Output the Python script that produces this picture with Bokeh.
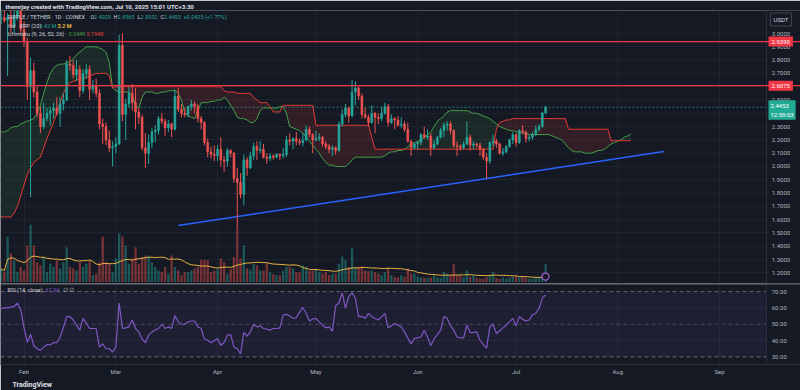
import numpy as np
import pandas as pd
from bokeh.plotting import figure
from bokeh.layouts import column
from bokeh.models import (Range1d, FixedTicker, NumeralTickFormatter, Label, Span,
                          BoxAnnotation, Grid, MonthsTicker, DatetimeTickFormatter,
                          Title, ColumnDataSource, LinearAxis)
from bokeh.embed import file_html
from bokeh.resources import INLINE

FONT = "Roboto"
BG = "#151924"
GRID = "#1f2330"
UP = "#26a69a"
DOWN = "#ef5350"
TXT = "#d1d4dc"
AX = "#b2b5be"

# ---------------- data (daily XRP/USDT, 2025-01-25 .. 2025-07-10) ----------------
start_date = "2025-01-25"
opens = [3.11, 3.12, 3.10, 3.12, 3.05, 3.13, 3.23, 3.03, 2.94, 2.60,
         2.72, 2.56, 2.40, 2.30, 2.36, 2.40, 2.42, 2.44, 2.40, 2.47,
         2.50, 2.77, 2.76, 2.69, 2.73, 2.57, 2.70, 2.73, 2.58, 2.61,
         2.55, 2.32, 2.30, 2.20, 2.14, 2.15, 2.17, 2.91, 2.39, 2.47,
         2.55, 2.48, 2.41, 2.37, 2.14, 2.10, 2.18, 2.26, 2.27, 2.36,
         2.34, 2.29, 2.32, 2.28, 2.53, 2.43, 2.40, 2.39, 2.45, 2.47,
         2.45, 2.36, 2.33, 2.18, 2.11, 2.09, 2.08, 2.13, 2.05, 2.04,
         2.12, 2.10, 1.91, 1.88, 1.79, 2.05, 1.99, 2.08, 2.15, 2.12,
         2.13, 2.07, 2.06, 2.08, 2.07, 2.09, 2.08, 2.09, 2.20, 2.19,
         2.21, 2.19, 2.18, 2.20, 2.28, 2.24, 2.20, 2.21, 2.22, 2.17,
         2.15, 2.13, 2.14, 2.12, 2.32, 2.39, 2.44, 2.38, 2.56, 2.59,
         2.53, 2.39, 2.37, 2.33, 2.40, 2.37, 2.36, 2.40, 2.45, 2.33,
         2.36, 2.35, 2.31, 2.32, 2.28, 2.19, 2.14, 2.17, 2.18, 2.24,
         2.22, 2.23, 2.14, 2.17, 2.22, 2.27, 2.31, 2.32, 2.27, 2.16,
         2.15, 2.14, 2.17, 2.22, 2.16, 2.17, 2.16, 2.13, 2.07, 2.04,
         2.18, 2.19, 2.17, 2.10, 2.11, 2.15, 2.20, 2.24, 2.18, 2.27,
         2.26, 2.21, 2.22, 2.24, 2.28, 2.30, 2.4029]
highs = [3.17, 3.18, 3.15, 3.19, 3.18, 3.28, 3.26, 3.09, 2.97, 2.82,
         2.78, 2.60, 2.45, 2.48, 2.44, 2.45, 2.48, 2.52, 2.52, 2.55,
         2.80, 2.83, 2.80, 2.80, 2.76, 2.73, 2.77, 2.76, 2.65, 2.66,
         2.58, 2.36, 2.33, 2.27, 2.19, 2.22, 2.99, 3.00, 2.51, 2.60,
         2.62, 2.59, 2.44, 2.39, 2.25, 2.24, 2.29, 2.31, 2.38, 2.40,
         2.36, 2.35, 2.33, 2.58, 2.59, 2.47, 2.44, 2.46, 2.50, 2.49,
         2.47, 2.38, 2.34, 2.21, 2.15, 2.16, 2.16, 2.22, 2.08, 2.14,
         2.13, 2.11, 1.99, 1.95, 2.09, 2.07, 2.11, 2.18, 2.19, 2.19,
         2.17, 2.10, 2.10, 2.09, 2.10, 2.10, 2.14, 2.23, 2.25, 2.22,
         2.26, 2.21, 2.25, 2.31, 2.30, 2.25, 2.27, 2.25, 2.23, 2.19,
         2.17, 2.16, 2.15, 2.34, 2.43, 2.47, 2.45, 2.65, 2.64, 2.61,
         2.55, 2.44, 2.39, 2.46, 2.41, 2.40, 2.45, 2.48, 2.47, 2.39,
         2.37, 2.38, 2.37, 2.34, 2.33, 2.20, 2.18, 2.19, 2.25, 2.30,
         2.28, 2.25, 2.20, 2.23, 2.29, 2.33, 2.34, 2.34, 2.28, 2.19,
         2.17, 2.19, 2.34, 2.24, 2.19, 2.18, 2.18, 2.14, 2.10, 2.19,
         2.24, 2.21, 2.18, 2.14, 2.16, 2.21, 2.26, 2.25, 2.28, 2.31,
         2.27, 2.24, 2.26, 2.31, 2.32, 2.41, 2.4565]
lows = [3.07, 3.08, 2.68, 3.00, 3.00, 3.10, 3.00, 2.90, 2.50, 1.77,
        2.52, 2.37, 2.25, 2.28, 2.34, 2.31, 2.36, 2.38, 2.30, 2.42,
        2.49, 2.72, 2.66, 2.64, 2.52, 2.55, 2.66, 2.50, 2.55, 2.52,
        2.28, 2.17, 2.16, 2.11, 2.00, 2.10, 2.16, 2.34, 2.20, 2.44,
        2.42, 2.28, 2.32, 2.12, 1.99, 2.02, 2.14, 2.18, 2.24, 2.32,
        2.23, 2.26, 2.22, 2.27, 2.41, 2.37, 2.37, 2.37, 2.42, 2.40,
        2.33, 2.28, 2.16, 2.07, 2.06, 2.04, 2.04, 2.00, 1.96, 2.00,
        2.07, 1.88, 1.54, 1.76, 1.71, 1.93, 1.98, 2.05, 2.05, 2.10,
        2.06, 2.02, 2.04, 2.05, 2.06, 2.05, 2.06, 2.07, 2.16, 2.13,
        2.16, 2.16, 2.15, 2.19, 2.22, 2.10, 2.19, 2.19, 2.15, 2.13,
        2.10, 2.08, 2.09, 2.11, 2.30, 2.37, 2.33, 2.37, 2.46, 2.50,
        2.36, 2.36, 2.30, 2.32, 2.25, 2.32, 2.34, 2.39, 2.30, 2.32,
        2.28, 2.30, 2.29, 2.26, 2.18, 2.08, 2.13, 2.13, 2.16, 2.21,
        2.20, 2.08, 2.13, 2.16, 2.21, 2.22, 2.27, 2.24, 2.14, 2.08,
        2.12, 2.13, 2.16, 2.12, 2.13, 2.14, 2.08, 2.05, 1.91, 2.02,
        2.15, 2.14, 2.09, 2.08, 2.10, 2.14, 2.17, 2.15, 2.17, 2.24,
        2.18, 2.19, 2.20, 2.23, 2.26, 2.29, 2.3932]
closes = [3.12, 3.10, 3.12, 3.05, 3.13, 3.23, 3.03, 2.94, 2.60, 2.72,
          2.56, 2.40, 2.30, 2.36, 2.40, 2.42, 2.44, 2.40, 2.47, 2.50,
          2.77, 2.76, 2.69, 2.73, 2.57, 2.70, 2.73, 2.58, 2.61, 2.55,
          2.32, 2.30, 2.20, 2.14, 2.15, 2.17, 2.91, 2.39, 2.47, 2.55,
          2.48, 2.41, 2.37, 2.14, 2.10, 2.18, 2.26, 2.27, 2.36, 2.34,
          2.29, 2.32, 2.28, 2.53, 2.43, 2.40, 2.39, 2.45, 2.47, 2.45,
          2.36, 2.33, 2.18, 2.11, 2.09, 2.08, 2.13, 2.05, 2.04, 2.12,
          2.10, 1.91, 1.88, 1.79, 2.05, 1.99, 2.08, 2.15, 2.12, 2.13,
          2.07, 2.06, 2.08, 2.07, 2.09, 2.08, 2.09, 2.20, 2.19, 2.21,
          2.19, 2.18, 2.20, 2.28, 2.24, 2.20, 2.21, 2.22, 2.17, 2.15,
          2.13, 2.14, 2.12, 2.32, 2.39, 2.44, 2.38, 2.56, 2.59, 2.53,
          2.39, 2.37, 2.33, 2.40, 2.37, 2.36, 2.40, 2.45, 2.33, 2.36,
          2.35, 2.31, 2.32, 2.28, 2.19, 2.14, 2.17, 2.18, 2.24, 2.22,
          2.23, 2.14, 2.17, 2.22, 2.27, 2.31, 2.32, 2.27, 2.16, 2.15,
          2.14, 2.17, 2.22, 2.16, 2.17, 2.16, 2.13, 2.07, 2.04, 2.18,
          2.19, 2.17, 2.10, 2.11, 2.15, 2.20, 2.24, 2.18, 2.27, 2.26,
          2.21, 2.22, 2.24, 2.28, 2.30, 2.4029, 2.4453]
volumes_m = [2.5, 1.9, 8.7, 5.5, 4.2, 1.9, 2.9, 2.2, 7.0, 11.0,
             7.0, 3.8, 3.2, 4.8, 1.9, 3.5, 2.9, 4.2, 2.6, 3.8,
             6.7, 2.9, 2.6, 2.2, 3.8, 2.9, 3.5, 4.2, 1.3, 1.6,
             3.8, 8.7, 3.8, 3.5, 1.9, 4.5, 9.3, 8.7, 7.0, 3.5,
             4.5, 6.7, 3.5, 4.8, 5.1, 5.1, 3.8, 2.9, 2.2, 1.9,
             2.9, 1.6, 5.1, 2.9, 2.2, 1.3, 1.9, 1.9, 2.2, 2.6,
             2.9, 4.3, 4.3, 4.2, 1.9, 2.2, 2.5, 4.5, 3.8, 1.6,
             2.5, 4.8, 10.6, 4.5, 7.0, 2.6, 2.4, 3.5, 3.2, 2.2,
             2.2, 3.6, 1.9, 1.5, 1.3, 1.3, 2.2, 2.9, 2.9, 2.6,
             1.9, 1.9, 3.2, 2.9, 2.2, 2.2, 2.4, 1.9, 1.6, 1.9,
             1.3, 1.6, 1.6, 3.5, 4.9, 4.2, 2.9, 6.5, 2.9, 2.9,
             3.0, 2.2, 2.1, 2.2, 1.9, 1.6, 1.3, 1.9, 2.6, 1.3,
             1.0, 0.9, 1.3, 1.0, 2.6, 1.6, 1.6, 1.0, 0.9, 0.8,
             0.8, 0.9, 1.3, 0.9, 0.8, 1.9, 1.6, 1.3, 3.4, 1.3,
             1.3, 1.0, 2.2, 1.0, 1.3, 0.8, 0.6, 0.6, 1.0, 1.3,
             1.9, 0.8, 0.6, 0.9, 0.6, 0.8, 1.0, 1.1, 0.9, 1.0,
             0.7, 0.6, 0.6, 0.9, 1.0, 1.3, 3.42]
rsi_values = [59.5, 60, 60, 60.5, 61, 63, 58.8, 48, 39, 43.7,
              37, 35, 34, 36, 37.5, 37.5, 38.7, 38.7, 42, 48,
              54.7, 54.7, 52.6, 49.5, 46.4, 53.6, 50.5, 47.4, 47.4, 47.4,
              36, 38, 35, 35, 33, 36, 63, 47.4, 47.8, 48.4,
              52.6, 47.4, 45.3, 41, 38.7, 43.3, 45.3, 46.5, 47.4, 50,
              47.4, 48.4, 47.4, 55.3, 51.5, 50, 50, 51.5, 52, 52,
              48.4, 47.4, 41, 40.2, 38.7, 40, 41.2, 37, 39, 43.3,
              43.7, 36, 35, 31.9, 45, 42.8, 45.3, 50, 48.4, 49,
              47.4, 47, 46.4, 47.4, 47.4, 47.8, 55.7, 56.1, 55, 53.6,
              54, 57.4, 60.3, 56.7, 52, 53.2, 53.6, 51.5, 49.5, 47.8,
              48.4, 45.7, 61.5, 63, 69.2, 59.8, 67.1, 69.2, 66, 54.7,
              54.7, 53.6, 56.7, 54.7, 53.5, 52.6, 54.5, 56.7, 47.8, 49,
              50.5, 49.5, 48.4, 45.3, 41.5, 38, 41.2, 41.7, 42.2, 46.4,
              42, 37, 41, 43.7, 46.4, 54.7, 53.6, 49, 46.4, 42.2,
              41.6, 41.6, 49.5, 44.9, 45, 45.3, 40.2, 37.5, 35.4, 48.4,
              50, 44.3, 46, 47.8, 49.5, 51.5, 53.6, 49, 54.7, 53,
              52, 52.6, 55.7, 56.7, 59.8, 66, 67.94]
# Ichimoku leading spans as drawn (shifted 26 days forward)
span_a = [2.26, 2.26, 2.27, 2.29, 2.30, 2.30, 2.32, 2.33, 2.34, 2.35,
          2.36, 2.40, 2.46, 2.55, 2.63, 2.70, 2.74, 2.76, 2.77, 2.77,
          2.78, 2.79, 2.81, 2.84, 2.86, 2.88, 2.90, 2.90, 2.90, 2.90,
          2.89, 2.88, 2.86, 2.78, 2.59, 2.57, 2.56, 2.56, 2.56, 2.56,
          2.54, 2.45, 2.44, 2.52, 2.56, 2.56, 2.56, 2.55, 2.55, 2.56,
          2.56, 2.57, 2.57, 2.57, 2.55, 2.50, 2.40, 2.38, 2.37, 2.36,
          2.42, 2.48, 2.48, 2.48, 2.49, 2.49, 2.50, 2.50, 2.52, 2.50,
          2.46, 2.42, 2.37, 2.36, 2.36, 2.35, 2.33, 2.33, 2.36, 2.42,
          2.44, 2.44, 2.44, 2.44, 2.44, 2.45, 2.45, 2.40, 2.30, 2.29,
          2.28, 2.27, 2.25, 2.22, 2.19, 2.16, 2.13, 2.10, 2.06, 2.03,
          2.01, 2.01, 2.00, 2.00, 2.00, 2.00, 2.02, 2.05, 2.07, 2.07,
          2.07, 2.07, 2.07, 2.07, 2.07, 2.07, 2.07, 2.08, 2.10, 2.11,
          2.11, 2.12, 2.12, 2.13, 2.15, 2.17, 2.18, 2.19, 2.20, 2.22,
          2.24, 2.26, 2.30, 2.34, 2.36, 2.38, 2.41, 2.42, 2.42, 2.42,
          2.42, 2.42, 2.42, 2.41, 2.40, 2.40, 2.39, 2.38, 2.37, 2.36,
          2.34, 2.32, 2.30, 2.29, 2.28, 2.27, 2.27, 2.26, 2.26, 2.25,
          2.25, 2.24, 2.24, 2.24, 2.24, 2.24, 2.24, 2.24, 2.23, 2.22,
          2.21, 2.20, 2.17, 2.14, 2.12, 2.11, 2.11, 2.11, 2.10, 2.10,
          2.10, 2.11, 2.12, 2.12, 2.13, 2.15, 2.17, 2.18, 2.19, 2.20,
          2.22, 2.23, 2.2449]
span_b = [1.62, 1.62, 1.62, 1.62, 1.65, 1.70, 1.78, 1.86, 1.94, 1.99,
          2.03, 2.05, 2.07, 2.14, 2.21, 2.27, 2.33, 2.40, 2.48, 2.55,
          2.60, 2.63, 2.64, 2.65, 2.66, 2.66, 2.67, 2.68, 2.69, 2.70,
          2.70, 2.70, 2.70, 2.68, 2.59, 2.60, 2.60, 2.60, 2.60, 2.60,
          2.60, 2.60, 2.60, 2.60, 2.60, 2.60, 2.60, 2.60, 2.60, 2.60,
          2.60, 2.60, 2.60, 2.60, 2.60, 2.60, 2.60, 2.60, 2.60, 2.60,
          2.60, 2.60, 2.60, 2.60, 2.60, 2.60, 2.60, 2.60, 2.57, 2.56,
          2.56, 2.56, 2.55, 2.55, 2.55, 2.55, 2.55, 2.52, 2.50, 2.48,
          2.48, 2.48, 2.45, 2.41, 2.41, 2.41, 2.46, 2.46, 2.46, 2.46,
          2.46, 2.46, 2.46, 2.46, 2.46, 2.46, 2.31, 2.31, 2.31, 2.31,
          2.31, 2.31, 2.31, 2.31, 2.31, 2.31, 2.31, 2.31, 2.31, 2.31,
          2.31, 2.31, 2.31, 2.22, 2.13, 2.13, 2.13, 2.13, 2.13, 2.13,
          2.13, 2.13, 2.13, 2.13, 2.13, 2.13, 2.13, 2.13, 2.13, 2.13,
          2.13, 2.13, 2.13, 2.13, 2.13, 2.13, 2.13, 2.13, 2.13, 2.13,
          2.13, 2.13, 2.13, 2.13, 2.13, 2.13, 2.13, 2.13, 2.13, 2.13,
          2.13, 2.28, 2.33, 2.34, 2.35, 2.35, 2.36, 2.36, 2.36, 2.36,
          2.36, 2.36, 2.36, 2.36, 2.36, 2.36, 2.36, 2.36, 2.36, 2.36,
          2.36, 2.36, 2.36, 2.28, 2.28, 2.28, 2.28, 2.28, 2.28, 2.28,
          2.28, 2.28, 2.28, 2.28, 2.28, 2.28, 2.194, 2.194, 2.194, 2.194,
          2.194, 2.194, 2.194]
trend_dates = ["2025-03-20", "2025-08-15"]
trend_prices = [1.556, 2.113]
level_prices = [2.9390, 2.6075]
last_price = 2.4453
price_ticks = [1.2, 1.3, 1.4, 1.5, 1.6, 1.7, 1.8, 1.9, 2.0, 2.1, 2.2, 2.3,
               2.4, 2.5, 2.6, 2.7, 2.8, 2.9, 3.0]
rsi_ticks = [30, 40, 50, 60, 70]

# ---------------- derived ----------------
dates = pd.date_range(start_date, periods=len(closes), freq="D")
cloud_dates = pd.date_range(start_date, periods=len(span_a), freq="D")
DAY_MS = 86400000
t0 = pd.Timestamp(start_date)
x_range = Range1d(start=t0 - pd.Timedelta(hours=4), end=t0 + pd.Timedelta(days=243.7))
axis_x = (t0 + pd.Timedelta(days=233.4)).timestamp() * 1000.0   # price-scale boundary

o = np.array(opens); c = np.array(closes)
colors = [UP if cc >= oo else DOWN for oo, cc in zip(o, c)]
src = ColumnDataSource(dict(x=dates, h=highs, l=lows, top=np.maximum(o, c),
                            bot=np.minimum(o, c), color=colors, vol=volumes_m))
vol_ma = pd.Series(volumes_m).rolling(20, min_periods=1).mean().values
a = np.array(span_a); b = np.array(span_b); lo = np.minimum(a, b)


def style_axis(axis):
    axis.major_label_text_font = FONT
    axis.major_label_text_font_size = "6px"
    axis.major_label_text_color = AX
    axis.axis_line_color = "#2a2e39"
    axis.major_tick_line_color = None
    axis.minor_tick_line_color = None
    axis.major_tick_out = 0
    axis.major_tick_in = 0
    axis.major_label_standoff = 5


def txt(p, x, y, s, color=TXT, size="5.5px", style="normal", **kw):
    p.add_layout(Label(x=x, y=y, x_units="screen", y_units="data", text=s,
                       text_color=color, text_font=FONT, text_font_size=size,
                       text_font_style=style, text_baseline="middle", **kw))


# ---------------- price pane ----------------
HEADER = "themrjay created with TradingView.com, Jul 10, 2025 15:01 UTC+3:30"
p1 = figure(width=800, height=283, x_axis_type="datetime", x_axis_location=None,
            y_axis_location=None, x_range=x_range, y_range=Range1d(1.12, 3.173),
            output_backend="svg", toolbar_location=None, title=HEADER,
            background_fill_color=BG, border_fill_color=BG, outline_line_color=None,
            min_border_left=0, min_border_right=0, min_border_top=0, min_border_bottom=0)
p1.xgrid.grid_line_color = None
p1.ygrid.grid_line_color = None
p1.title.text_font = FONT
p1.title.text_font_size = "6px"
p1.title.text_color = "#e0e3eb"
p1.title.text_font_style = "bold"
p1.title.standoff = 1
p1.title.offset = 5
p1.extra_y_ranges = {"vol": Range1d(-0.29, 52.2)}

p1.add_layout(Grid(dimension=1, ticker=FixedTicker(ticks=price_ticks), grid_line_color=GRID))
p1.add_layout(Grid(dimension=0, ticker=MonthsTicker(months=list(range(1, 13))),
                   grid_line_color=GRID))
p1.add_layout(Span(location=last_price, dimension="width", line_color=UP,
                   line_width=1, line_dash="2 2", line_alpha=0.7, level="underlay"))
p1.add_layout(BoxAnnotation(left=axis_x, fill_color=BG, fill_alpha=1.0, line_color=None,
                            level="glyph"))
pax = LinearAxis(fixed_location=axis_x, ticker=FixedTicker(ticks=price_ticks),
                 formatter=NumeralTickFormatter(format="0.0000"))
style_axis(pax)
p1.add_layout(pax, "right")

# volume
p1.vbar(x="x", top="vol", bottom=0, width=0.7 * DAY_MS, fill_color="color",
        line_color=None, fill_alpha=0.45, y_range_name="vol", source=src)
p1.line(dates, vol_ma, y_range_name="vol", line_color="#e8b341", line_width=1)
p1.scatter([dates[-1]], [vol_ma[-1]], y_range_name="vol", marker="circle", size=7,
           fill_color=BG, line_color="#a25ad0", line_width=1.2)

# ichimoku cloud
p1.varea(x=cloud_dates, y1=a, y2=lo, fill_color="#43a047", fill_alpha=0.13)
p1.varea(x=cloud_dates, y1=b, y2=lo, fill_color="#f44336", fill_alpha=0.13)
p1.line(cloud_dates, a, line_color="#43a047", line_width=1)
p1.line(cloud_dates, b, line_color="#e53935", line_width=1)

# levels
for lp in level_prices:
    p1.add_layout(Span(location=lp, dimension="width", line_color="#f23645", line_width=1.2))
p1.line(pd.to_datetime(trend_dates), trend_prices, line_color="#2962ff", line_width=1.5)

# candles
p1.segment(x0="x", y0="l", x1="x", y1="h", line_color="color", line_width=1, source=src)
p1.vbar(x="x", top="top", bottom="bot", width=0.6 * DAY_MS, fill_color="color",
        line_color="color", line_width=0.5, source=src)

# legend lines
y1, y2, y3 = 3.1226, 3.060, 3.0
txt(p1, 7, y1, "RIPPLE / TETHER · 1D · COINEX")
for xl, lab, xv, val in [(90, "O", 93.5, "2.4029"), (113, "H", 117, "2.4565"),
                         (137, "L", 140, "2.3932"), (160, "C", 163.5, "2.4453")]:
    txt(p1, xl, y1, lab)
    txt(p1, xv, y1, val, color=UP)
txt(p1, 183, y1, "+0.0425 (+1.77%)", color=UP)
txt(p1, 7, y2, "Vol · XRP (20)")
txt(p1, 39, y2, "3.42 M", color=UP)
txt(p1, 57, y2, "3.2 M", color="#e8b341", style="bold")
txt(p1, 7, y3, "Ichimoku (9, 26, 52, 26)")
txt(p1, 68, y3, "2.2449", color="#43a047")
txt(p1, 86, y3, "2.1940", color="#f44336")

# price-scale tags
for lp in level_prices:
    txt(p1, 768, lp, f"{lp:.4f}", color="#ffffff", size="6px",
        background_fill_color="#f23645", padding=3)
txt(p1, 768, 2.425, f"{last_price:.4f}\n12:59:03", color="#ffffff", size="6px",
    background_fill_color="#22ab94", padding=2)
txt(p1, 770, 3.105, "USDT", color=TXT, size="6px", background_fill_color=BG,
    border_line_color="#434651", padding=3)

# ---------------- RSI pane ----------------
p2 = figure(width=800, height=107, x_axis_type="datetime", y_axis_location=None,
            x_range=x_range, y_range=Range1d(25.35, 74.96),
            output_backend="svg", toolbar_location=None,
            background_fill_color=BG, border_fill_color=BG, outline_line_color=None,
            min_border_left=0, min_border_right=0, min_border_top=0, min_border_bottom=0)
p2.ygrid.grid_line_color = None
p2.xaxis.ticker = MonthsTicker(months=list(range(1, 13)))
p2.xaxis.formatter = DatetimeTickFormatter(months="%b", days="%b", years="%Y")
style_axis(p2.xaxis[0])
p2.xaxis.major_label_standoff = 3
p2.xgrid.grid_line_color = GRID
p2.add_layout(Grid(dimension=1, ticker=FixedTicker(ticks=[40, 60]), grid_line_color=GRID))
p2.add_layout(BoxAnnotation(bottom=30, top=70, fill_color="#7e57c2",
                            fill_alpha=0.1, line_color=None, level="underlay"))
for lv, alpha in [(70, 0.8), (50, 0.45), (30, 0.8)]:
    p2.add_layout(Span(location=lv, dimension="width", line_color="#787b86",
                       line_dash="4 3", line_width=1, line_alpha=alpha, level="underlay"))
p2.add_layout(BoxAnnotation(left=axis_x, fill_color=BG, fill_alpha=1.0, line_color=None,
                            level="glyph"))
rax = LinearAxis(fixed_location=axis_x, ticker=FixedTicker(ticks=rsi_ticks),
                 formatter=NumeralTickFormatter(format="0.00"))
style_axis(rax)
p2.add_layout(rax, "right")

p2.add_layout(Span(location=74.7, dimension="width", line_color="#434651", line_width=2))
p2.line(dates, rsi_values, line_color="#7e57c2", line_width=1.2)

txt(p2, 7, 71.0, "RSI (14, close)")
txt(p2, 45, 71.0, "67.94", color="#7e57c2")
txt(p2, 62, 71.0, "∅", color=AX)
txt(p2, 68, 71.0, "∅", color=AX)

p2.add_layout(Title(text="TradingView", align="left", text_font=FONT,
                    text_font_size="7px", text_font_style="bold", text_color="#e0e3eb",
                    offset=12, standoff=3), "below")

layout = column(p1, p2, spacing=0)
open("out.html", "w").write(file_html(layout, INLINE))
